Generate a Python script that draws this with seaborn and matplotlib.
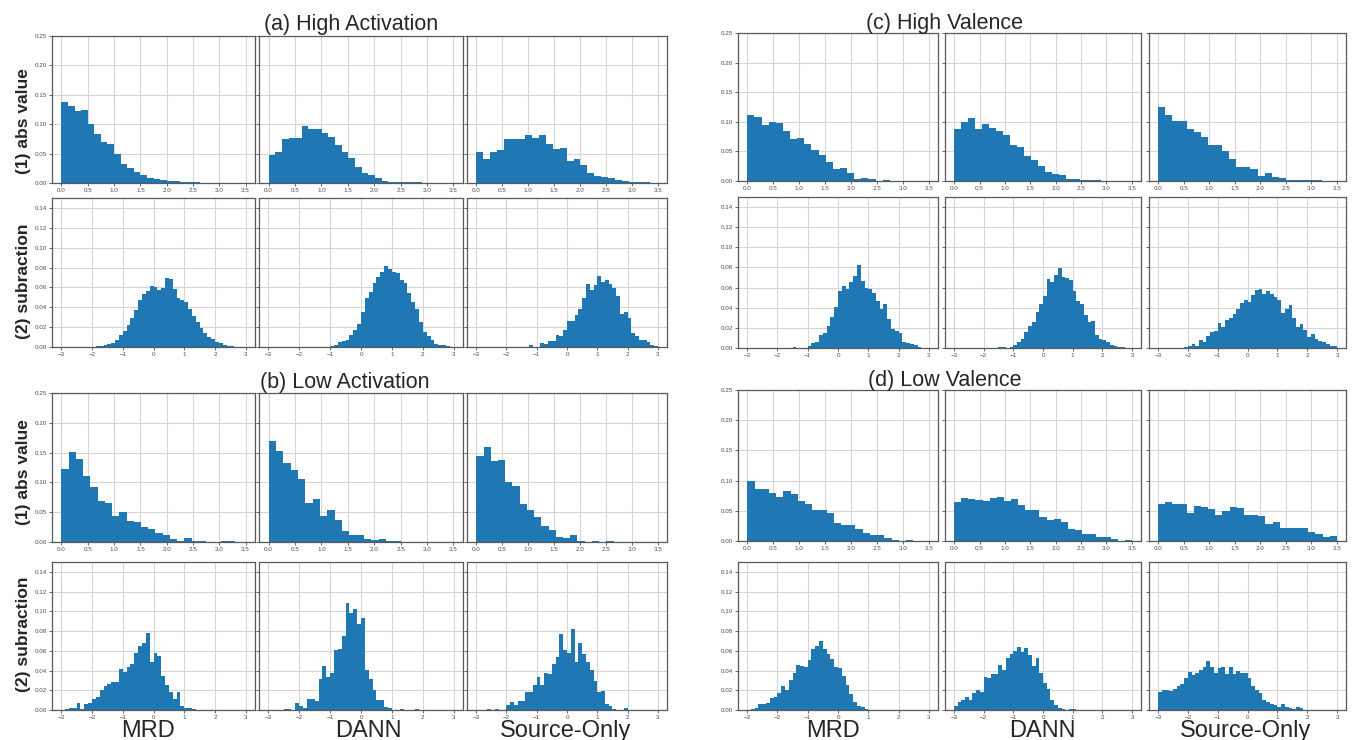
import numpy as np
import pandas as pd
import matplotlib
matplotlib.use("Agg")
import matplotlib.pyplot as plt
import seaborn as sns

# --- Data ---

METHODS = ["MRD", "DANN", "Source-Only"]
PANEL_TITLES = ["(a) High Activation", "(b) Low Activation", "(c) High Valence", "(d) Low Valence"]
ROW_LABELS = ["(1) abs value", "(2) subraction"]

SUB_BIN = 0.125  # bin width of the subtraction histograms

# (a) High Activation, abs value (bins start at 0, end given per method)
HA_ABS_MRD = [0.138, 0.131, 0.123, 0.124, 0.101, 0.083, 0.069, 0.066, 0.049, 0.032, 0.026,
              0.018, 0.013, 0.009, 0.007, 0.005, 0.004, 0.003, 0.002, 0.001, 0.001]
HA_ABS_DANN = [0.048, 0.052, 0.074, 0.077, 0.077, 0.097, 0.091, 0.091, 0.085, 0.078, 0.064, 0.053,
               0.043, 0.028, 0.017, 0.014, 0.009, 0.004, 0.002, 0.002, 0.002, 0.001, 0.001]
HA_ABS_SO = [0.052, 0.041, 0.052, 0.056, 0.074, 0.074, 0.075, 0.081, 0.077, 0.081, 0.067, 0.058, 0.059,
             0.038, 0.040, 0.030, 0.017, 0.012, 0.010, 0.008, 0.005, 0.003, 0.002, 0.001, 0.001]
HA_ABS_END = [2.625, 2.9, 3.35]

# (a) High Activation, subtraction (bins of SUB_BIN, start given per method)
HA_SUB_MRD = [0.001, 0.001, 0.002, 0.003, 0.004, 0.007, 0.012, 0.016, 0.022, 0.029, 0.037, 0.047,
              0.053, 0.056, 0.061, 0.060, 0.057, 0.059, 0.069, 0.068, 0.058, 0.049, 0.047, 0.045,
              0.038, 0.031, 0.025, 0.019, 0.014, 0.010, 0.008, 0.005, 0.004, 0.002, 0.001, 0.001]
HA_SUB_DANN = [0.001, 0.002, 0.005, 0.006, 0.0075, 0.012, 0.017, 0.023, 0.035, 0.049, 0.055, 0.064,
               0.070, 0.076, 0.082, 0.079, 0.076, 0.075, 0.067, 0.064, 0.054, 0.045, 0.038, 0.025,
               0.015, 0.011, 0.0075, 0.003, 0.002, 0.002, 0.001, 0.0005]
HA_SUB_SO = [0.002, 0.0005, 0.0005, 0.004, 0.0035, 0.006, 0.006, 0.012, 0.011, 0.017, 0.026, 0.026,
             0.032, 0.038, 0.049, 0.063, 0.057, 0.062, 0.071, 0.065, 0.067, 0.063, 0.059, 0.051,
             0.033, 0.035, 0.029, 0.014, 0.011, 0.0075, 0.007, 0.005, 0.0025, 0.0015]
HA_SUB_START = [-1.875, -1.0, -1.25]

# (b) Low Activation
LA_ABS_MRD = [0.123, 0.151, 0.139, 0.110, 0.093, 0.069, 0.066, 0.043, 0.051, 0.036, 0.033, 0.026,
              0.021, 0.015, 0.011, 0.005, 0.002, 0.007, 0.002, 0.001, 0.0, 0.0, 0.001, 0.001]
LA_ABS_DANN = [0.169, 0.152, 0.133, 0.120, 0.105, 0.066, 0.072, 0.043, 0.054, 0.037, 0.018, 0.011,
               0.012, 0.005, 0.003, 0.005, 0.002, 0.002]
LA_ABS_SO = [0.145, 0.160, 0.136, 0.137, 0.100, 0.094, 0.064, 0.053, 0.042, 0.027, 0.020, 0.009,
             0.007, 0.011, 0.002, 0.0, 0.001, 0.0, 0.001]
LA_ABS_END = [3.3, 2.5, 2.65]

LA_SUB_MRD = [0.001, 0.002, 0.0025, 0.007, 0.0015, 0.006, 0.0075, 0.011, 0.013, 0.020, 0.024, 0.026,
              0.028, 0.028, 0.042, 0.039, 0.044, 0.047, 0.058, 0.065, 0.068, 0.078, 0.049, 0.058,
              0.055, 0.034, 0.025, 0.018, 0.011, 0.018, 0.004, 0.0025, 0.002, 0.001]
LA_SUB_DANN = [0.001, 0.001, 0.0, 0.007, 0.004, 0.002, 0.011, 0.011, 0.009, 0.031, 0.045, 0.033,
               0.037, 0.061, 0.062, 0.075, 0.108, 0.098, 0.102, 0.087, 0.093, 0.041, 0.031, 0.020,
               0.010, 0.010, 0.003, 0.002, 0.0, 0.0, 0.001, 0.0, 0.0, 0.0, 0.001]
LA_SUB_SO = [0.0015, 0.0, 0.0015, 0.0, 0.0, 0.005, 0.0085, 0.005, 0.009, 0.009, 0.018, 0.018, 0.025,
             0.033, 0.025, 0.037, 0.0365, 0.047, 0.054, 0.077, 0.061, 0.058, 0.082, 0.049, 0.068,
             0.057, 0.049, 0.041, 0.029, 0.018, 0.0195, 0.0065, 0.004, 0.0015, 0.0, 0.0, 0.0025]
LA_SUB_START = [-2.875, -2.5, -2.625]

# (c) High Valence
HV_ABS_MRD = [0.112, 0.108, 0.094, 0.100, 0.098, 0.084, 0.071, 0.072, 0.063, 0.053, 0.044, 0.032,
              0.021, 0.022, 0.013, 0.004, 0.005, 0.003, 0.0, 0.001]
HV_ABS_DANN = [0.087, 0.099, 0.106, 0.087, 0.097, 0.090, 0.084, 0.077, 0.061, 0.058, 0.043, 0.035,
               0.026, 0.016, 0.012, 0.010, 0.004, 0.003, 0.002, 0.001, 0.001]
HV_ABS_SO = [0.125, 0.112, 0.102, 0.101, 0.088, 0.082, 0.074, 0.061, 0.061, 0.051, 0.037, 0.023,
             0.023, 0.021, 0.009, 0.013, 0.007, 0.005, 0.002, 0.001, 0.001, 0.001, 0.001]
HV_ABS_END = [2.75, 2.9, 3.2]

HV_SUB_MRD = [0.001, 0.0, 0.0, 0.0, 0.002, 0.005, 0.006, 0.013, 0.015, 0.022, 0.031, 0.041, 0.057,
              0.062, 0.059, 0.066, 0.072, 0.082, 0.067, 0.060, 0.059, 0.055, 0.047, 0.039, 0.044,
              0.029, 0.019, 0.017, 0.015, 0.006, 0.005, 0.004, 0.003, 0.001]
HV_SUB_DANN = [0.001, 0.001, 0.0, 0.001, 0.003, 0.006, 0.009, 0.016, 0.022, 0.026, 0.036, 0.044,
               0.052, 0.069, 0.066, 0.073, 0.079, 0.071, 0.070, 0.068, 0.057, 0.047, 0.044, 0.033,
               0.026, 0.027, 0.013, 0.009, 0.008, 0.006, 0.003, 0.002, 0.001, 0.0005]
HV_SUB_SO = [0.001, 0.002, 0.004, 0.002, 0.008, 0.006, 0.012, 0.016, 0.017, 0.025, 0.021, 0.028,
             0.030, 0.034, 0.039, 0.045, 0.048, 0.046, 0.053, 0.058, 0.059, 0.054, 0.057, 0.054,
             0.051, 0.048, 0.035, 0.039, 0.043, 0.030, 0.021, 0.024, 0.018, 0.011, 0.014, 0.009,
             0.007, 0.006, 0.004, 0.002, 0.002]
HV_SUB_START = [-1.5, -1.5, -2.125]

# (d) Low Valence
LV_ABS_MRD = [0.100, 0.086, 0.086, 0.080, 0.073, 0.083, 0.078, 0.067, 0.061, 0.052, 0.051, 0.047,
              0.030, 0.027, 0.026, 0.020, 0.014, 0.010, 0.010, 0.005, 0.002, 0.0, 0.001]
LV_ABS_DANN = [0.065, 0.071, 0.069, 0.068, 0.066, 0.071, 0.073, 0.067, 0.070, 0.059, 0.051, 0.051,
               0.039, 0.035, 0.036, 0.032, 0.020, 0.018, 0.011, 0.012, 0.007, 0.006, 0.004, 0.0, 0.001]
LV_ABS_SO = [0.061, 0.065, 0.061, 0.062, 0.047, 0.058, 0.056, 0.053, 0.043, 0.050, 0.056, 0.055,
             0.043, 0.043, 0.042, 0.028, 0.032, 0.022, 0.022, 0.022, 0.021, 0.015, 0.011, 0.007, 0.009]
LV_ABS_END = [3.2, 3.5, 3.5]

LV_SUB_MRD = [0.001, 0.002, 0.006, 0.006, 0.007, 0.012, 0.013, 0.017, 0.024, 0.020, 0.030, 0.038,
              0.046, 0.045, 0.044, 0.051, 0.062, 0.065, 0.070, 0.062, 0.057, 0.052, 0.044, 0.043,
              0.034, 0.025, 0.016, 0.008, 0.004, 0.003, 0.001]
LV_SUB_DANN = [0.004, 0.008, 0.010, 0.013, 0.010, 0.017, 0.020, 0.018, 0.033, 0.032, 0.036, 0.036,
               0.046, 0.041, 0.053, 0.057, 0.060, 0.064, 0.059, 0.063, 0.056, 0.045, 0.053, 0.037,
               0.027, 0.021, 0.010, 0.005, 0.002, 0.001, 0.0, 0.001, 0.001]
LV_SUB_SO = [0.018, 0.020, 0.020, 0.019, 0.021, 0.024, 0.026, 0.032, 0.039, 0.035, 0.038, 0.041,
             0.044, 0.050, 0.044, 0.038, 0.043, 0.044, 0.036, 0.044, 0.036, 0.040, 0.037, 0.037,
             0.032, 0.024, 0.020, 0.017, 0.010, 0.008, 0.006, 0.005, 0.003, 0.006, 0.003, 0.002,
             0.001, 0.003, 0.002, 0.0, 0.0005]
LV_SUB_START = [-2.875, -3.0, -3.0]

PANELS = [
    ([HA_ABS_MRD, HA_ABS_DANN, HA_ABS_SO], HA_ABS_END, [HA_SUB_MRD, HA_SUB_DANN, HA_SUB_SO], HA_SUB_START),
    ([LA_ABS_MRD, LA_ABS_DANN, LA_ABS_SO], LA_ABS_END, [LA_SUB_MRD, LA_SUB_DANN, LA_SUB_SO], LA_SUB_START),
    ([HV_ABS_MRD, HV_ABS_DANN, HV_ABS_SO], HV_ABS_END, [HV_SUB_MRD, HV_SUB_DANN, HV_SUB_SO], HV_SUB_START),
    ([LV_ABS_MRD, LV_ABS_DANN, LV_ABS_SO], LV_ABS_END, [LV_SUB_MRD, LV_SUB_DANN, LV_SUB_SO], LV_SUB_START),
]

# --- Layout (pixel boxes of the reference, 1354x740) ---
W, H = 1354, 740
LEFT_COLS = [(52, 255), (259, 463), (467, 667)]
RIGHT_COLS = [(738, 938), (945, 1141), (1149, 1346)]
PANEL_ROWS = [
    [(36, 183), (198, 347)],   # (a)
    [(393, 542), (562, 710)],  # (b)
    [(33, 181), (197, 348)],   # (c)
    [(390, 541), (562, 710)],  # (d)
]
PANEL_COLS = [LEFT_COLS, LEFT_COLS, RIGHT_COLS, RIGHT_COLS]
TITLE_POS = [(351, 30), (345, 388), (945, 29), (945, 386)]   # centre x, baseline y
ROW_LABEL_Y = [121, 281, 472, 634]
LABEL_X = [148, 368, 566, 833, 1042, 1246]
BAR_COLOR = "#1f77b4"

sns.set_theme(style="whitegrid", rc={
    "axes.edgecolor": "0.35",
    "axes.linewidth": 0.9,
    "grid.color": "0.84",
    "grid.linewidth": 0.8,
    "xtick.bottom": True,
    "ytick.left": True,
    "xtick.major.size": 2,
    "ytick.major.size": 2,
    "xtick.major.width": 0.6,
    "ytick.major.width": 0.6,
    "xtick.color": "0.3",
    "ytick.color": "0.3",
    "xtick.major.pad": 1.5,
    "ytick.major.pad": 1.5,
})
plt.rcParams["font.family"] = ["Liberation Sans", "DejaVu Sans"]


def add_axes(fig, xs, ys):
    x0, x1 = xs
    y0, y1 = ys
    return fig.add_axes([x0 / W, 1 - y1 / H, (x1 - x0) / W, (y1 - y0) / H])


def draw_hist(ax, heights, lo, hi):
    edges = np.linspace(lo, hi, len(heights) + 1)
    df = pd.DataFrame({"value": (edges[:-1] + edges[1:]) / 2, "density": heights})
    sns.histplot(data=df, x="value", weights="density", bins=edges.tolist(), ax=ax,
                 color=BAR_COLOR, alpha=1, linewidth=0)
    ax.set_xlabel("")
    ax.set_ylabel("")


fig = plt.figure(figsize=(W / 100, H / 100), dpi=100)

for p, (abs_sets, abs_end, sub_sets, sub_start) in enumerate(PANELS):
    cols = PANEL_COLS[p]
    for c in range(3):
        # row 1: abs value
        ax = add_axes(fig, cols[c], PANEL_ROWS[p][0])
        draw_hist(ax, abs_sets[c], 0.0, abs_end[c])
        ax.set_xlim(-0.18, 3.68)
        ax.set_ylim(0, 0.25)
        ax.set_xticks(np.arange(0, 3.51, 0.5))
        ax.set_xticklabels([f"{v:.1f}" for v in np.arange(0, 3.51, 0.5)])
        ax.set_yticks(np.arange(0, 0.251, 0.05))
        ax.set_yticklabels([f"{v:.2f}" for v in np.arange(0, 0.251, 0.05)])
        ax.tick_params(labelsize=4.5, labelleft=(c == 0))
        ax.set_axisbelow(True)

        # row 2: subtraction
        ax = add_axes(fig, cols[c], PANEL_ROWS[p][1])
        vals = sub_sets[c]
        lo = sub_start[c]
        draw_hist(ax, vals, lo, lo + SUB_BIN * len(vals))
        ax.set_xlim(-3.3, 3.3)
        ax.set_ylim(0, 0.15)
        ax.set_xticks(range(-3, 4))
        ax.set_yticks(np.arange(0, 0.141, 0.02))
        ax.set_yticklabels([f"{v:.2f}" for v in np.arange(0, 0.141, 0.02)])
        ax.tick_params(labelsize=4.5, labelleft=(c == 0))
        ax.set_axisbelow(True)

    tx, ty = TITLE_POS[p]
    fig.text(tx / W, 1 - ty / H, PANEL_TITLES[p], ha="center", va="baseline", fontsize=15.5)

# row labels on the left side
for y, label in zip(ROW_LABEL_Y, ROW_LABELS * 2):
    fig.text(24 / W, 1 - y / H, label, rotation=90, ha="center", va="center",
             fontsize=12.5, fontweight="bold")

# method names under the columns
for x, name in zip(LABEL_X, METHODS * 2):
    fig.text(x / W, 1 - 731 / H, name, ha="center", va="center", fontsize=17)

fig.savefig("out.png", dpi=100)
